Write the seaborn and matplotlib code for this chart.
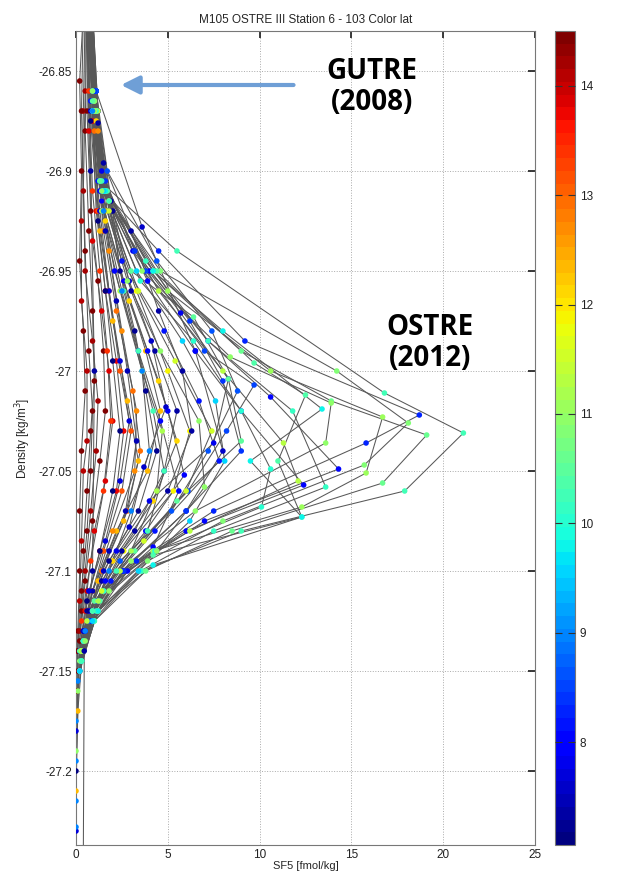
import numpy as np
import pandas as pd
import seaborn as sns
import matplotlib.pyplot as plt
from matplotlib.colors import Normalize
from matplotlib.cm import ScalarMappable
from matplotlib.ticker import FuncFormatter

# latitude of every station (colour), and each profile as density / SF5 pairs
lat = [14.4, 14.1, 14.5, 14.4, 13.9, 14.2, 13.7, 14.5,
       13.2, 12.9, 12.4, 12.1, 13.4, 12.7, 11.9, 12.3,
       7.4, 7.6, 8.3, 8.1, 8.0, 7.3, 7.8, 7.2, 8.5, 7.5, 8.2, 7.7, 8.6, 7.9, 7.1, 8.4, 7.6, 8.0,
       10.2, 10.6, 10.8, 11.1, 10.1, 10.4, 11.0, 11.3, 10.0, 9.8, 10.5, 11.5, 9.6, 10.9, 10.3, 11.2,
       7.3, 9.0]

sigma = [
    [-26.82, -26.855, -26.90, -26.945, -26.98, -27.01, -27.04, -27.07, -27.10, -27.13, -27.16],
    [-26.82, -26.87, -26.925, -26.965, -27.00, -27.035, -27.05, -27.085, -27.115, -27.14],
    [-26.82, -26.88, -26.93, -26.97, -27.005, -27.03, -27.06, -27.09, -27.12, -27.15],
    [-26.82, -26.87, -26.92, -26.955, -26.99, -27.02, -27.045, -27.075, -27.105, -27.135],
    [-26.82, -26.88, -26.935, -26.97, -27.00, -27.025, -27.055, -27.08, -27.11, -27.14],
    [-26.82, -26.86, -26.91, -26.95, -26.985, -27.015, -27.04, -27.07, -27.10, -27.13],
    [-26.82, -26.875, -26.92, -26.96, -26.995, -27.03, -27.06, -27.09, -27.12],
    [-26.82, -26.87, -26.94, -26.99, -27.02, -27.05, -27.08, -27.11, -27.14, -27.16],
    [-26.82, -26.87, -26.92, -26.96, -27.00, -27.03, -27.06, -27.09, -27.12, -27.15],
    [-26.82, -26.88, -26.93, -26.97, -27.01, -27.04, -27.07, -27.10, -27.13],
    [-26.82, -26.87, -26.915, -26.955, -26.99, -27.02, -27.05, -27.08, -27.11, -27.14],
    [-26.82, -26.875, -26.925, -26.965, -27.005, -27.035, -27.065, -27.095, -27.125, -27.15],
    [-26.82, -26.86, -26.91, -26.95, -26.99, -27.025, -27.06, -27.095, -27.125],
    [-26.82, -26.88, -26.94, -26.98, -27.02, -27.05, -27.08, -27.11, -27.14],
    [-26.82, -26.87, -26.92, -26.96, -27.00, -27.03, -27.06, -27.09, -27.12, -27.15],
    [-26.82, -26.87, -26.93, -26.975, -27.015, -27.045, -27.075, -27.105, -27.135, -27.17, -27.21],
    [-26.82, -26.86, -26.876, -26.896, -26.93, -26.97, -27.00, -27.03, -27.06, -27.09, -27.12, -27.15],
    [-26.82, -26.86, -26.928, -26.99, -27.04, -27.07, -27.10, -27.13],
    [-26.82, -26.87, -26.91, -26.94, -26.985, -27.022, -27.036, -27.07, -27.095, -27.12, -27.145],
    [-26.82, -26.87, -26.91, -26.95, -26.985, -27.013, -27.049, -27.075, -27.10, -27.125, -27.15],
    [-26.82, -26.865, -26.91, -26.955, -26.99, -27.02, -27.057, -27.08, -27.10, -27.125, -27.15],
    [-26.82, -26.87, -26.915, -26.96, -26.99, -27.02, -27.05, -27.08, -27.105, -27.13],
    [-26.82, -26.86, -26.90, -26.94, -26.971, -27.004, -27.036, -27.065, -27.09, -27.12, -27.14],
    [-26.82, -26.87, -26.92, -26.95, -26.98, -27.01, -27.04, -27.07, -27.095, -27.12, -27.145],
    [-26.82, -26.86, -26.91, -26.95, -26.99, -27.007, -27.03, -27.06, -27.09, -27.115, -27.14],
    [-26.82, -26.87, -26.93, -26.965, -27.00, -27.035, -27.07, -27.09, -27.11, -27.14],
    [-26.82, -26.865, -26.905, -26.945, -26.98, -27.015, -27.045, -27.08, -27.105, -27.13],
    [-26.82, -26.87, -26.92, -26.96, -26.995, -27.025, -27.055, -27.085, -27.11, -27.14, -27.18, -27.23],
    [-26.82, -26.86, -26.90, -26.945, -26.98, -27.01, -27.04, -27.07, -27.095, -27.125],
    [-26.82, -26.87, -26.915, -26.955, -26.99, -27.02, -27.052, -27.08, -27.105, -27.135],
    [-26.82, -26.875, -26.925, -26.96, -26.995, -27.03, -27.06, -27.09, -27.115, -27.14, -27.20],
    [-26.82, -26.86, -26.905, -26.94, -26.975, -27.005, -27.04, -27.07, -27.10, -27.125, -27.15],
    [-26.82, -26.87, -26.92, -26.955, -26.985, -27.018, -27.048, -27.078, -27.10, -27.13],
    [-26.82, -26.86, -26.91, -26.95, -26.99, -27.025, -27.06, -27.088, -27.11, -27.14],
    [-26.82, -26.87, -26.905, -26.94, -27.011, -27.031, -27.060, -27.08, -27.10, -27.12, -27.14],
    [-26.82, -26.865, -26.91, -26.95, -26.99, -27.015, -27.032, -27.056, -27.08, -27.10, -27.125, -27.15],
    [-26.82, -26.87, -26.91, -26.95, -27.00, -27.026, -27.047, -27.075, -27.095, -27.12, -27.145],
    [-26.82, -26.87, -26.91, -26.96, -27.00, -27.023, -27.051, -27.068, -27.09, -27.11, -27.135],
    [-26.82, -26.86, -26.905, -26.945, -26.985, -27.020, -27.058, -27.08, -27.10, -27.125, -27.15],
    [-26.82, -26.87, -26.91, -26.95, -26.996, -27.012, -27.045, -27.073, -27.092, -27.115, -27.14],
    [-26.82, -26.865, -26.91, -26.95, -26.993, -27.016, -27.036, -27.07, -27.095, -27.12, -27.145],
    [-26.82, -26.87, -26.915, -26.96, -27.00, -27.036, -27.055, -27.08, -27.10, -27.125],
    [-26.82, -26.87, -26.91, -26.955, -26.985, -27.02, -27.049, -27.068, -27.09, -27.11, -27.135],
    [-26.82, -26.87, -26.91, -26.95, -26.98, -27.019, -27.045, -27.073, -27.097, -27.12, -27.145],
    [-26.82, -26.865, -26.905, -26.95, -26.973, -27.004, -27.035, -27.065, -27.09, -27.115, -27.14],
    [-26.82, -26.87, -26.92, -26.96, -26.995, -27.03, -27.06, -27.085, -27.11, -27.14],
    [-26.82, -26.87, -26.91, -26.95, -26.985, -27.015, -27.045, -27.075, -27.10, -27.125, -27.15],
    [-26.82, -26.86, -26.91, -26.955, -26.99, -27.025, -27.058, -27.09, -27.11, -27.135, -27.16, -27.19],
    [-26.82, -26.87, -26.915, -26.96, -26.99, -27.02, -27.05, -27.08, -27.10, -27.12, -27.145],
    [-26.82, -26.87, -26.92, -26.96, -27.00, -27.03, -27.06, -27.09, -27.115, -27.14],
    [-26.82, -26.90, -27.00, -27.10, -27.14, -27.24],
    [-26.82, -26.87, -26.92, -26.96, -27.00, -27.04, -27.07, -27.10, -27.13, -27.155, -27.175, -27.195, -27.215, -27.228],
]

sf5 = [
    [0.4, 0.2, 0.3, 0.2, 0.4, 0.5, 0.3, 0.2, 0.2, 0.1, 0.05],
    [0.5, 0.4, 0.3, 0.3, 0.6, 0.6, 0.4, 0.3, 0.2, 0.1],
    [0.6, 0.5, 0.7, 0.9, 1.0, 0.8, 0.6, 0.4, 0.3, 0.1],
    [0.7, 0.6, 0.8, 1.2, 1.5, 1.6, 1.3, 0.9, 0.5, 0.2],
    [0.6, 0.7, 0.9, 1.4, 1.8, 2.0, 1.6, 1.0, 0.6, 0.2],
    [0.5, 0.5, 0.4, 0.5, 0.9, 1.2, 1.1, 0.8, 0.5, 0.2],
    [0.8, 0.9, 1.1, 1.6, 2.2, 2.6, 2.2, 1.3, 0.5],
    [0.4, 0.3, 0.5, 0.7, 0.9, 0.8, 0.6, 0.3, 0.1, 0.05],
    [0.7, 0.9, 1.2, 1.8, 2.4, 3.0, 2.5, 1.5, 0.6, 0.2],
    [0.8, 1.0, 1.5, 2.2, 3.1, 3.5, 2.8, 1.4, 0.5],
    [0.9, 1.0, 1.4, 2.6, 3.8, 4.6, 3.9, 2.2, 0.9, 0.3],
    [0.8, 1.1, 1.6, 2.9, 4.5, 5.5, 4.2, 2.0, 0.7, 0.2],
    [0.6, 0.7, 0.9, 1.3, 1.7, 1.9, 1.5, 0.8, 0.3],
    [0.9, 1.2, 1.8, 2.5, 3.3, 3.2, 2.0, 0.9, 0.3],
    [0.8, 1.1, 1.7, 3.3, 5.0, 6.2, 5.3, 2.6, 0.8, 0.2],
    [0.7, 0.9, 1.3, 2.0, 2.8, 3.4, 2.6, 1.2, 0.4, 0.1, 0.0],
    [0.9, 1.1, 1.2, 1.5, 3.0, 4.5, 5.8, 6.3, 5.0, 2.5, 0.8, 0.2],
    [0.8, 1.1, 3.6, 6.5, 8.0, 6.0, 2.5, 0.5],
    [0.7, 1.0, 1.5, 4.5, 9.2, 18.7, 15.8, 7.5, 3.3, 1.0, 0.3],
    [0.8, 1.0, 1.4, 4.0, 7.2, 10.6, 14.3, 7.0, 2.8, 0.9, 0.2],
    [0.6, 0.9, 1.5, 3.9, 6.5, 9.0, 12.4, 6.0, 2.6, 0.8, 0.2],
    [0.8, 1.1, 1.9, 3.0, 4.3, 5.5, 4.8, 3.2, 1.4, 0.4],
    [0.7, 0.9, 1.4, 3.1, 5.7, 8.3, 7.5, 4.0, 2.2, 0.7, 0.2],
    [0.9, 1.2, 2.0, 2.4, 3.2, 3.8, 4.4, 3.4, 1.8, 0.6, 0.2],
    [0.8, 1.1, 1.6, 3.8, 7.0, 9.7, 8.2, 6.1, 3.0, 1.1, 0.3],
    [0.7, 1.0, 1.6, 2.2, 2.8, 3.3, 2.7, 1.8, 0.9, 0.2],
    [0.6, 0.8, 1.2, 2.5, 4.8, 6.7, 7.8, 4.3, 1.9, 0.5],
    [0.5, 0.8, 1.3, 1.8, 2.4, 2.9, 2.4, 1.6, 0.7, 0.2, 0.0, 0.0],
    [0.9, 1.1, 1.7, 4.4, 7.4, 8.8, 7.2, 5.2, 2.4, 0.7],
    [0.7, 1.0, 1.4, 2.6, 3.9, 5.0, 5.9, 3.8, 1.6, 0.4],
    [0.6, 0.8, 1.2, 1.6, 2.0, 2.4, 2.0, 1.3, 0.6, 0.2, 0.0],
    [0.8, 1.0, 1.6, 3.2, 6.2, 8.0, 9.0, 6.0, 2.6, 0.9, 0.2],
    [0.9, 1.2, 1.8, 2.9, 4.1, 4.9, 3.7, 2.9, 1.5, 0.4],
    [0.7, 0.9, 1.3, 2.1, 3.4, 4.6, 5.6, 4.2, 1.5, 0.3],
    [0.7, 0.9, 1.3, 5.5, 16.8, 21.1, 17.9, 9.0, 3.6, 1.1, 0.3],
    [0.8, 1.0, 1.6, 4.2, 9.0, 13.9, 19.1, 16.7, 8.5, 3.8, 1.0, 0.2],
    [0.7, 1.0, 1.5, 4.6, 14.2, 18.1, 15.7, 8.0, 3.9, 1.2, 0.3],
    [0.8, 1.1, 1.6, 5.0, 10.6, 16.7, 15.8, 12.3, 4.2, 1.5, 0.4],
    [0.6, 0.9, 1.4, 3.8, 7.2, 11.8, 13.6, 7.5, 3.5, 1.0, 0.2],
    [0.8, 1.1, 1.7, 4.4, 9.7, 12.5, 11.0, 12.3, 4.2, 1.3, 0.3],
    [0.7, 1.0, 1.5, 3.6, 8.4, 13.9, 13.6, 6.5, 3.0, 0.9, 0.2],
    [0.8, 1.2, 1.8, 4.5, 8.0, 11.3, 12.1, 6.2, 2.4, 0.6],
    [0.7, 0.9, 1.5, 3.5, 6.4, 9.0, 10.6, 10.1, 4.3, 1.5, 0.4],
    [0.8, 1.0, 1.6, 4.2, 8.0, 13.4, 9.5, 12.3, 4.2, 1.2, 0.3],
    [0.6, 0.9, 1.3, 3.0, 6.4, 8.3, 9.0, 5.5, 3.2, 1.0, 0.2],
    [0.8, 1.1, 1.8, 3.4, 5.4, 7.4, 6.0, 3.7, 1.4, 0.3],
    [0.7, 1.0, 1.5, 3.3, 5.8, 7.6, 8.1, 6.2, 3.4, 0.9, 0.2],
    [0.7, 0.9, 1.4, 2.8, 4.6, 6.7, 7.0, 4.4, 1.8, 0.5, 0.1, 0.0],
    [0.9, 1.1, 1.8, 2.6, 3.4, 4.2, 4.8, 3.9, 2.2, 0.9, 0.3],
    [0.7, 1.0, 1.4, 2.4, 3.6, 4.7, 4.4, 3.0, 1.2, 0.3],
    [0.6, 0.8, 1.0, 0.9, 0.45, 0.4],
    [0.6, 0.9, 1.5, 2.5, 3.6, 4.0, 3.0, 1.8, 0.5, 0.1, 0.0, 0.0, 0.0, 0.0],
]

rows = []
for i in range(len(lat)):
    for s, v in zip(sigma[i], sf5[i]):
        rows.append({"station": i, "lat": lat[i], "sigma": s, "sf5": v})
df = pd.DataFrame(rows)

sns.set_theme(style="white")
plt.rcParams["font.family"] = ["Liberation Sans", "DejaVu Sans"]
plt.rcParams["axes.unicode_minus"] = False

fig = plt.figure(figsize=(6.18, 8.74), dpi=100)
ax = fig.add_axes([76 / 618, 1 - 845 / 874, 459 / 618, 814 / 874])
cax = fig.add_axes([555 / 618, 1 - 845 / 874, 20 / 618, 814 / 874])

cmap = plt.get_cmap("jet", 64)
norm = Normalize(vmin=7.06, vmax=14.5)

sns.lineplot(data=df, x="sf5", y="sigma", units="station", estimator=None, sort=False,
             color="#585858", linewidth=0.75, ax=ax, zorder=2)
sns.scatterplot(data=df, x="sf5", y="sigma", hue="lat", palette=cmap, hue_norm=norm,
                s=16, linewidth=0, legend=False, ax=ax, zorder=3)

ax.set_xlim(0, 25)
ax.set_ylim(-27.237, -26.83)
ax.set_xticks([0, 5, 10, 15, 20, 25])
ax.set_yticks([-27.2, -27.15, -27.1, -27.05, -27.0, -26.95, -26.9, -26.85])
ax.yaxis.set_major_formatter(FuncFormatter(lambda v, p: "%g" % round(v, 3)))
ax.grid(True, linestyle=":", color="#aaaaaa", linewidth=0.7)
ax.set_axisbelow(True)
ax.tick_params(direction="in", length=5, top=True, right=True, labelsize=8.5,
               colors="#222222", pad=3)
for sp in ax.spines.values():
    sp.set_color("#777777")
    sp.set_linewidth(0.8)
ax.set_xlabel("SF5 [fmol/kg]", fontsize=8, labelpad=0)
ax.set_ylabel("Density [kg/m$^3$]", fontsize=8.5, labelpad=4)
ax.set_title("M105 OSTRE III Station 6 - 103 Color lat", fontsize=8.5, pad=6)

ax.annotate("", xy=(2.3, -26.857), xytext=(12.0, -26.857),
            arrowprops=dict(arrowstyle="-|>,head_width=0.45,head_length=0.9",
                            color="#6f9fd6", lw=3))
ax.text(16.1, -26.858, "GUTRE\n(2008)", fontsize=20, fontweight="bold", family="Open Sans",
        ha="center", va="center", linespacing=1.1, color="black")
ax.text(19.3, -26.986, "OSTRE\n(2012)", fontsize=20, fontweight="bold", family="Open Sans",
        ha="center", va="center", linespacing=1.1, color="black")

sm = ScalarMappable(norm=norm, cmap=cmap)
cb = fig.colorbar(sm, cax=cax)
cb.set_ticks([8, 9, 10, 11, 12, 13, 14])
cax.set_axisbelow(False)
cax.yaxis.set_ticks_position("both")
cax.tick_params(axis="y", direction="in", length=5, width=0.8, left=True, right=True,
                labelleft=False, labelright=True, labelsize=8.5, color="#333333",
                labelcolor="#222222")
for t in cax.yaxis.get_major_ticks():
    t.tick1line.set_zorder(5)
    t.tick2line.set_zorder(5)
cb.outline.set_edgecolor("#777777")
cb.outline.set_linewidth(0.8)

fig.savefig("out.png", dpi=100)
